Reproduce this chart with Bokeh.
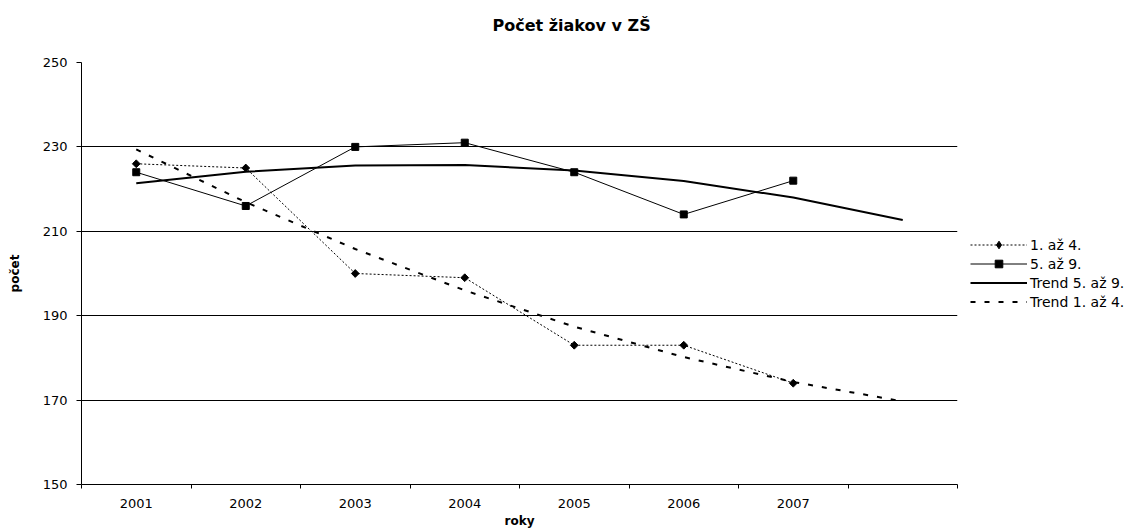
import math
from bokeh.plotting import figure
from bokeh.models import Range1d, FixedTicker, Legend, LegendItem, LinearAxis
from bokeh.embed import file_html
from bokeh.resources import INLINE

# ---- data ----
years = ["2001", "2002", "2003", "2004", "2005", "2006", "2007"]
tick_labels = years + [""]
s_1_4 = [226, 225, 200, 199, 183, 183, 174]
s_5_9 = [224, 216, 230, 231, 224, 214, 222]
trend_5_9 = [221.4, 224.1, 225.6, 225.7, 224.4, 221.9, 218.0, 212.7]
trend_1_4 = [229.4, 216.9, 205.8, 196.0, 187.4, 180.2, 174.3, 169.7]
y_ticks = [150, 170, 190, 210, 230, 250]

title_text = "Počet žiakov v ZŠ"
x_title = "roky"
y_title = "počet"

x_data = list(range(1, len(years) + 1))
x_trend = list(range(1, len(tick_labels) + 1))

FONT = "DejaVu Sans"

p = figure(width=1141, height=528, frame_width=876, frame_height=422,
           output_backend="svg", toolbar_location=None,
           x_range=Range1d(0.5, len(tick_labels) + 0.5), y_range=Range1d(150, 250),
           min_border_left=81, min_border_right=184, min_border_top=62,
           min_border_bottom=44)
p.outline_line_color = None
p.background_fill_color = "white"
p.border_fill_color = "white"

xax = p.below[0]
yax = p.left[0]

# invisible spacer between frame and title (pushes the title upwards)
spacer = LinearAxis(ticker=FixedTicker(ticks=[x_trend[0]], minor_ticks=[]),
                    major_label_overrides={x_trend[0]: ""},
                    major_label_text_font_size="1px",
                    axis_line_color=None, major_tick_line_color=None,
                    minor_tick_line_color=None, major_tick_out=28, major_tick_in=0,
                    minor_tick_out=0, minor_tick_in=0, major_label_standoff=0)
p.add_layout(spacer, "above")

# title
p.title.text = title_text
p.title.align = "left"
p.title.offset = 411
p.title.vertical_align = "bottom"
p.title.standoff = 0
p.title.text_font = FONT
p.title.text_font_size = "16px"
p.title.text_font_style = "bold"
p.title.text_color = "black"

# axes
xax.ticker = FixedTicker(ticks=x_trend, minor_ticks=[i + 0.5 for i in range(0, len(tick_labels) + 1)])
xax.major_label_overrides = {x: lab for x, lab in zip(x_trend, tick_labels)}
xax.major_tick_line_color = None
xax.major_tick_out = 0
xax.major_tick_in = 0
xax.minor_tick_out = 4
xax.minor_tick_in = 0
xax.minor_tick_line_color = "black"
xax.major_label_standoff = 10
xax.axis_line_color = "black"
xax.axis_label = x_title
xax.axis_label_standoff = 3

yax.ticker = FixedTicker(ticks=y_ticks)
yax.minor_tick_line_color = None
yax.major_tick_out = 5
yax.major_tick_in = 0
yax.major_label_standoff = 9
yax.axis_line_color = "black"
yax.axis_label = y_title
yax.axis_label_standoff = 18

for ax in (xax, yax):
    ax.major_label_text_font = FONT
    ax.major_label_text_font_size = "13px"
    ax.major_label_text_color = "black"
    ax.axis_label_text_font = FONT
    ax.axis_label_text_font_size = "12px"
    ax.axis_label_text_font_style = "bold"
    ax.axis_label_text_color = "black"

p.xgrid.visible = False
p.ygrid.grid_line_color = "black"
p.ygrid.grid_line_width = 1

# series
t59 = p.line(x_trend, trend_5_9, line_color="black", line_width=2)
t14 = p.line(x_trend, trend_1_4, line_color="black", line_width=2, line_dash="5 9")
l14 = p.line(x_data, s_1_4, line_color="black", line_width=1, line_dash="2 2")
# diamond glyph used for the legend (hidden under the rotated squares in the plot)
m14_leg = p.scatter(x_data, s_1_4, marker="diamond", size=5, color="black")
m14 = p.scatter(x_data, s_1_4, marker="square", size=5.5, angle=math.pi / 4, color="black")
l59 = p.line(x_data, s_5_9, line_color="black", line_width=1)
m59 = p.scatter(x_data, s_5_9, marker="square", size=7, color="black")

legend = Legend(items=[
    LegendItem(label="1. až 4.", renderers=[l14, m14_leg]),
    LegendItem(label="5. až 9.", renderers=[l59, m59]),
    LegendItem(label="Trend 5. až 9.", renderers=[t59]),
    LegendItem(label="Trend 1. až 4.", renderers=[t14]),
], location="left", orientation="vertical")
legend.border_line_color = None
legend.background_fill_alpha = 0
legend.padding = 0
legend.margin = 13
legend.spacing = 0
legend.glyph_width = 57
legend.glyph_height = 19
legend.label_height = 19
legend.label_standoff = 3
legend.label_text_font = FONT
legend.label_text_font_size = "14px"
legend.label_text_color = "black"
p.add_layout(legend, "right")

open("out.html", "w").write(file_html(p, INLINE))
